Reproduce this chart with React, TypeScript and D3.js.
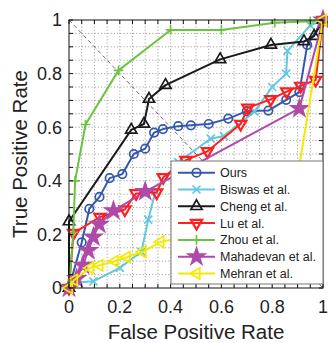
import { useEffect, useRef } from 'react'
import * as d3 from 'd3'

type Pt = [number, number]

const seriesNames = ['Ours', 'Biswas et al.', 'Cheng et al.', 'Lu et al.', 'Zhou et al.', 'Mahadevan et al.', 'Mehran et al.']
const seriesColors = ['#3558ad', '#62c8e0', '#1a1a1a', '#ff1f1f', '#6cc241', '#b04aa8', '#f2ea00']
const seriesMarkers = ['circle', 'times', 'triUp', 'triDown', 'plus', 'star', 'triLeft']

const ours: Pt[] = [[0, 0], [0.05, 0.17], [0.08, 0.295], [0.12, 0.34], [0.16, 0.41], [0.21, 0.425], [0.255, 0.5], [0.3, 0.52], [0.335, 0.58], [0.37, 0.593], [0.43, 0.604], [0.48, 0.607], [0.55, 0.612], [0.627, 0.632], [0.7, 0.66], [0.785, 0.662], [0.855, 0.702], [0.907, 0.731], [0.938, 0.907], [1, 1]]
const biswas: Pt[] = [[0, 0], [0.02, 0.02], [0.096, 0.025], [0.2, 0.075], [0.285, 0.135], [0.312, 0.255], [0.34, 0.36], [0.43, 0.47], [0.558, 0.557], [0.61, 0.567], [0.73, 0.658], [0.8, 0.75], [0.855, 0.8], [0.86, 0.885], [0.95, 0.98], [1, 1]]
const cheng: Pt[] = [[0, 0], [0, 0.248], [0.245, 0.59], [0.295, 0.612], [0.315, 0.705], [0.38, 0.757], [0.595, 0.853], [0.795, 0.907], [0.925, 0.92], [0.965, 0.94], [1, 1]]
const lu: Pt[] = [[0, 0], [0.018, 0.205], [0.122, 0.265], [0.22, 0.293], [0.264, 0.353], [0.345, 0.356], [0.371, 0.413], [0.46, 0.477], [0.545, 0.51], [0.676, 0.612], [0.704, 0.672], [0.794, 0.704], [0.857, 0.733], [0.912, 0.754], [0.971, 0.776], [1, 1]]
const zhou: Pt[] = [[0, 0], [0.017, 0.208], [0.024, 0.4], [0.065, 0.61], [0.195, 0.812], [0.4, 0.963], [0.6, 0.963], [0.81, 0.99], [0.95, 0.995], [1, 1]]
const mahadevan: Pt[] = [[0, 0], [0.03, 0.035], [0.055, 0.085], [0.076, 0.14], [0.096, 0.19], [0.119, 0.238], [0.175, 0.288], [0.3, 0.36], [0.907, 0.67], [1, 1]]
const mehran: Pt[] = [[0, 0], [0.02, 0.03], [0.083, 0.075], [0.12, 0.085], [0.18, 0.1], [0.227, 0.115], [0.29, 0.135], [0.36, 0.172], [0.6, 0.22], [0.88, 0.3], [1, 1]]

const seriesData = [ours, biswas, cheng, lu, zhou, mahadevan, mehran]
const tickValues = [0, 0.2, 0.4, 0.6, 0.8, 1]
const tickLabels = ['0', '0.2', '0.4', '0.6', '0.8', '1']
const xTitle = 'False Positive Rate'
const yTitle = 'True Positive Rate'

function markerPath(kind: string): string {
  switch (kind) {
    case 'circle': return d3.symbol(d3.symbolCircle, 56)()!
    case 'times': return 'M-4,-4L4,4M-4,4L4,-4'
    case 'triUp': return 'M0,-6.5L5.6,3.2L-5.6,3.2Z'
    case 'triDown': return 'M0,6.5L5.6,-3.2L-5.6,-3.2Z'
    case 'plus': return 'M-4.8,0H4.8M0,-4.8V4.8'
    case 'star': return d3.symbol(d3.symbolStar, 85)()!
    default: return 'M-6.5,0L3.2,-5.6L3.2,5.6Z'
  }
}

export default function App() {
  const svgRef = useRef<SVGSVGElement>(null)

  useEffect(() => {
    if (!svgRef.current) return
    const svg = d3.select(svgRef.current)
    svg.selectAll('*').remove()

    const width = 328
    const height = 343
    const left = 69, right = 323, top = 20, bottom = 288
    const font = 'Liberation Sans, Arial, Helvetica, sans-serif'

    svg.attr('width', width).attr('height', height)
    svg.append('rect').attr('width', width).attr('height', height).attr('fill', '#fff')

    const x = d3.scaleLinear().domain([0, 1]).range([left, right])
    const y = d3.scaleLinear().domain([0, 1]).range([bottom, top])
    const minor = d3.range(0, 1.0001, 0.05)

    // dotted grid
    const grid = svg.append('g').attr('stroke', '#9a9a9a').attr('stroke-width', 0.9).attr('stroke-dasharray', '1.2,2')
    minor.slice(1, -1).forEach(v => {
      grid.append('line').attr('x1', x(v)).attr('x2', x(v)).attr('y1', top).attr('y2', bottom)
      grid.append('line').attr('y1', y(v)).attr('y2', y(v)).attr('x1', left).attr('x2', right)
    })

    // chance diagonal
    svg.append('line')
      .attr('x1', x(0)).attr('y1', y(1)).attr('x2', x(1)).attr('y2', y(0))
      .attr('stroke', '#444').attr('stroke-width', 0.8).attr('stroke-dasharray', '4,3')

    const line = d3.line<Pt>().x(d => x(d[0])).y(d => y(d[1]))

    seriesData.forEach((data, i) => {
      const color = seriesColors[i]
      const kind = seriesMarkers[i]
      const g = svg.append('g')
      g.append('path').datum(data).attr('d', line).attr('fill', 'none')
        .attr('stroke', color).attr('stroke-width', 2).attr('stroke-linejoin', 'round')
      g.selectAll('path.m').data(data).enter().append('path')
        .attr('class', 'm')
        .attr('transform', d => `translate(${x(d[0])},${y(d[1])})`)
        .attr('d', markerPath(kind))
        .attr('fill', kind === 'star' ? color : 'none')
        .attr('stroke', color).attr('stroke-width', kind === 'triDown' ? 2.2 : 1.7)
    })

    // frame + inside ticks
    const axis = svg.append('g').attr('stroke', '#111').attr('stroke-width', 1)
    axis.append('rect').attr('x', left).attr('y', top).attr('width', right - left).attr('height', bottom - top).attr('fill', 'none')
    minor.forEach(v => {
      axis.append('line').attr('x1', x(v)).attr('x2', x(v)).attr('y1', bottom).attr('y2', bottom - 4)
      axis.append('line').attr('x1', x(v)).attr('x2', x(v)).attr('y1', top).attr('y2', top + 4)
      axis.append('line').attr('y1', y(v)).attr('y2', y(v)).attr('x1', left).attr('x2', left + 4)
      axis.append('line').attr('y1', y(v)).attr('y2', y(v)).attr('x1', right).attr('x2', right - 4)
    })

    // tick labels
    tickValues.forEach((v, i) => {
      svg.append('text').attr('x', x(v)).attr('y', 313).attr('text-anchor', 'middle')
        .attr('font-family', font).attr('font-size', 18).attr('fill', '#222').text(tickLabels[i])
      svg.append('text').attr('x', 62).attr('y', y(v)).attr('dy', '0.36em').attr('text-anchor', 'end')
        .attr('font-family', font).attr('font-size', 18).attr('fill', '#222').text(tickLabels[i])
    })

    // axis titles
    svg.append('text').attr('x', (left + right) / 2).attr('y', 339).attr('text-anchor', 'middle')
      .attr('font-family', font).attr('font-size', 20.5).attr('fill', '#222').text(xTitle)
    svg.append('text').attr('transform', `translate(27,154) rotate(-90)`).attr('text-anchor', 'middle')
      .attr('font-family', font).attr('font-size', 20.5).attr('fill', '#222').text(yTitle)

    // legend
    const lg = svg.append('g')
    lg.append('rect').attr('x', 171).attr('y', 161).attr('width', 152).attr('height', 123)
      .attr('fill', '#fff').attr('stroke', '#777').attr('stroke-width', 1)
    seriesNames.forEach((name, i) => {
      const ry = 172.7 + i * 16.8
      const color = seriesColors[i]
      const kind = seriesMarkers[i]
      lg.append('line').attr('x1', 178).attr('x2', 215).attr('y1', ry).attr('y2', ry)
        .attr('stroke', color).attr('stroke-width', 2)
      lg.append('path').attr('transform', `translate(196.5,${ry})`).attr('d', markerPath(kind))
        .attr('fill', kind === 'star' ? color : 'none')
        .attr('stroke', color).attr('stroke-width', kind === 'triDown' ? 2.2 : 1.7)
      lg.append('text').attr('x', 220).attr('y', ry).attr('dy', '0.36em')
        .attr('font-family', font).attr('font-size', 12.5).attr('fill', '#222').text(name)
    })
  }, [])

  return <svg ref={svgRef} style={{ position: 'absolute', left: 0, top: 0 }} />
}
